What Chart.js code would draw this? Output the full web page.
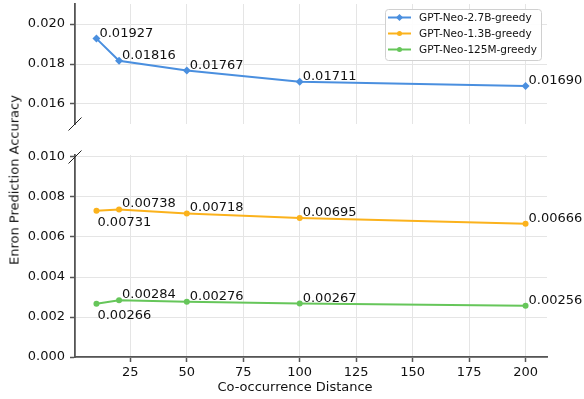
<!DOCTYPE html>
<html>
<head>
<meta charset="utf-8">
<script src="https://cdn.jsdelivr.net/npm/chart.js@4.4.1/dist/chart.umd.min.js"></script>
<style>
  html, body { margin: 0; padding: 0; background: #fff; }
  #wrap { position: relative; width: 584px; height: 399px; overflow: hidden; }
  #upper { position: absolute; left: 0; top: 0; width: 584px; height: 140px; }
  #lower { position: absolute; left: 0; top: 140px; width: 584px; height: 259px; }
  #ylab {
    position: absolute; left: 14px; top: 180px;
    transform: translate(-50%, -50%) rotate(-90deg);
    font: 13px "DejaVu Sans"; color: #111; white-space: nowrap;
  }
</style>
</head>
<body>
<div id="wrap">
  <canvas id="upper" width="584" height="140"></canvas>
  <canvas id="lower" width="584" height="259"></canvas>
  <div id="ylab">Enron Prediction Accuracy</div>
</div>
<script>
// Co-occurrence distances and accuracy per model
const distances = [10, 20, 50, 100, 200];
const neo27B  = [0.01927, 0.01816, 0.01767, 0.01711, 0.01690];
const neo13B  = [0.00731, 0.00738, 0.00718, 0.00695, 0.00666];
const neo125M = [0.00266, 0.00284, 0.00276, 0.00267, 0.00256];

const seriesNames = ['GPT-Neo-2.7B-greedy', 'GPT-Neo-1.3B-greedy', 'GPT-Neo-125M-greedy'];
const xTicks = [25, 50, 75, 100, 125, 150, 175, 200];
const upperTicks = [0.016, 0.018, 0.020];
const lowerTicks = [0.000, 0.002, 0.004, 0.006, 0.008, 0.010];

const FONT = '"DejaVu Sans", sans-serif';
const GRID = '#e5e5e5';
const SPINE = '#555';
const COLORS = ['#4a8fdf', '#fbb21c', '#66c65a'];
const STYLES = ['rectRot', 'circle', 'circle'];
const RADII = [4, 3, 3];

const points = vals => distances.map((d, i) => ({ x: d, y: vals[i] }));

function makeDataset(idx, vals, below) {
  return {
    label: seriesNames[idx],
    data: points(vals),
    borderColor: COLORS[idx],
    backgroundColor: COLORS[idx],
    borderWidth: 2,
    pointStyle: STYLES[idx],
    pointRadius: RADII[idx],
    pointHoverRadius: RADII[idx],
    pointBorderWidth: 0,
    tension: 0,
    clip: false,
    labelBelow: below
  };
}

// numeric annotation next to every point
const valueLabels = {
  id: 'valueLabels',
  afterDatasetsDraw(chart) {
    const ctx = chart.ctx;
    ctx.save();
    ctx.font = '13px ' + FONT;
    ctx.fillStyle = '#111';
    ctx.textAlign = 'left';
    ctx.textBaseline = 'alphabetic';
    chart.data.datasets.forEach((ds, di) => {
      const meta = chart.getDatasetMeta(di);
      meta.data.forEach((el, i) => {
        const txt = ds.data[i].y.toFixed(5);
        if (ds.labelBelow && ds.labelBelow.includes(i)) {
          ctx.fillText(txt, el.x + 1, el.y + 15.5);
        } else {
          ctx.fillText(txt, el.x + 3, el.y - 2);
        }
      });
    });
    ctx.restore();
  }
};

function breakMark(ctx, cx, cy) {
  ctx.save();
  ctx.strokeStyle = '#222';
  ctx.lineWidth = 1;
  ctx.beginPath();
  ctx.moveTo(cx - 6.5, cy + 6.5);
  ctx.lineTo(cx + 6.5, cy - 6.5);
  ctx.stroke();
  ctx.restore();
}

function drawMarker(ctx, style, x, y, r) {
  ctx.beginPath();
  if (style === 'rectRot') {
    ctx.moveTo(x, y - r); ctx.lineTo(x + r, y); ctx.lineTo(x, y + r); ctx.lineTo(x - r, y);
    ctx.closePath();
  } else {
    ctx.arc(x, y, r, 0, Math.PI * 2);
  }
  ctx.fill();
}

const upperDecor = {
  id: 'upperDecor',
  afterDraw(chart) {
    const ctx = chart.ctx;
    const a = chart.chartArea;
    breakMark(ctx, a.left, a.bottom);
    // legend box
    const bx = 385.5, by = 9.5, bw = 156, bh = 51;
    ctx.save();
    ctx.fillStyle = 'rgba(255,255,255,0.9)';
    ctx.strokeStyle = '#d0d0d0';
    ctx.lineWidth = 1;
    ctx.beginPath();
    if (ctx.roundRect) ctx.roundRect(bx, by, bw, bh, 3); else ctx.rect(bx, by, bw, bh);
    ctx.fill();
    ctx.stroke();
    ctx.font = '10.5px ' + FONT;
    ctx.textBaseline = 'middle';
    ctx.textAlign = 'left';
    seriesNames.forEach((name, i) => {
      const y = 17.5 + i * 16;
      ctx.strokeStyle = COLORS[i];
      ctx.fillStyle = COLORS[i];
      ctx.lineWidth = 2;
      ctx.beginPath();
      ctx.moveTo(388, y); ctx.lineTo(411, y);
      ctx.stroke();
      drawMarker(ctx, STYLES[i], 399.5, y, i === 0 ? 3.5 : 2.5);
      ctx.fillStyle = '#111';
      ctx.fillText(name, 419, y + 0.5);
    });
    ctx.restore();
  }
};

const lowerDecor = {
  id: 'lowerDecor',
  afterDraw(chart) {
    const ctx = chart.ctx;
    const a = chart.chartArea;
    breakMark(ctx, a.left, a.top + 2);
    ctx.save();
    ctx.font = '13px ' + FONT;
    ctx.fillStyle = '#111';
    ctx.textAlign = 'center';
    ctx.textBaseline = 'alphabetic';
    ctx.fillText('Co-occurrence Distance', 295, 251);
    ctx.restore();
  }
};

function yScale(min, max, ticks) {
  return {
    type: 'linear', position: 'left', min, max,
    afterBuildTicks: s => { s.ticks = ticks.map(v => ({ value: v })); },
    afterFit: s => { s.width = 75; s.paddingTop = 0; s.paddingBottom = 0; },
    ticks: {
      font: { family: FONT, size: 13 }, color: '#111', padding: 5,
      callback: v => Number(v).toFixed(3)
    },
    grid: { color: GRID, lineWidth: 1, drawTicks: true, tickLength: 5, tickColor: SPINE, tickWidth: 1.5 },
    border: { display: true, color: SPINE, width: 1.8 }
  };
}

function xScale(showAxis) {
  return {
    type: 'linear', position: 'bottom', min: 0.5, max: 209.5,
    afterBuildTicks: s => { s.ticks = xTicks.map(v => ({ value: v })); },
    afterFit: s => { s.height = showAxis ? 42 : 16; s.paddingLeft = 0; s.paddingRight = 0; },
    ticks: {
      display: showAxis,
      font: { family: FONT, size: 13 }, color: '#111', padding: 3,
      maxRotation: 0, autoSkip: false,
      callback: v => String(v)
    },
    grid: { color: GRID, lineWidth: 1, drawTicks: showAxis, tickLength: 5, tickColor: SPINE, tickWidth: 1.5 },
    border: { display: showAxis, color: SPINE, width: 1.8 }
  };
}

const common = {
  responsive: false,
  animation: false,
  devicePixelRatio: 1,
  plugins: { legend: { display: false }, tooltip: { enabled: false } },
  events: []
};

new Chart(document.getElementById('upper'), {
  type: 'line',
  data: { datasets: [makeDataset(0, neo27B, [])] },
  options: Object.assign({}, common, {
    layout: { padding: { top: 4, right: 37, bottom: 0, left: 0 } },
    scales: { x: xScale(false), y: yScale(0.015, 0.021, upperTicks) }
  }),
  plugins: [valueLabels, upperDecor]
});

new Chart(document.getElementById('lower'), {
  type: 'line',
  data: { datasets: [makeDataset(1, neo13B, [0]), makeDataset(2, neo125M, [0])] },
  options: Object.assign({}, common, {
    layout: { padding: { top: 15, right: 37, bottom: 0, left: 0 } },
    scales: { x: xScale(true), y: yScale(0, 0.0101, lowerTicks) }
  }),
  plugins: [valueLabels, lowerDecor]
});
</script>
</body>
</html>
